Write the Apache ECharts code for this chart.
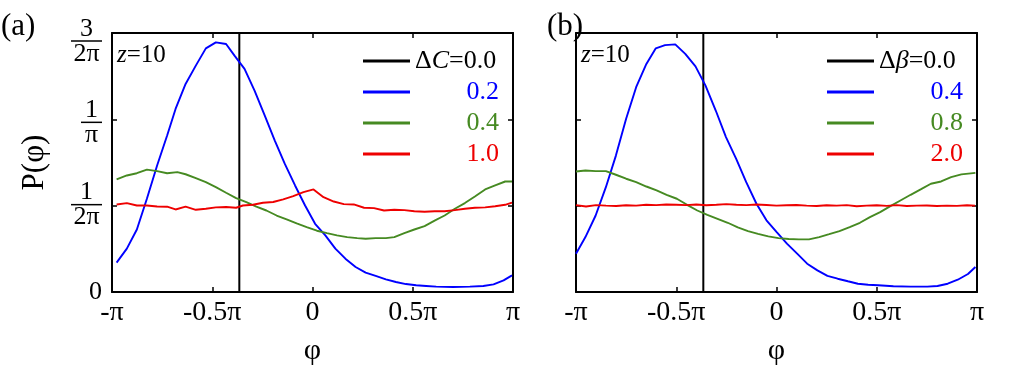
<!DOCTYPE html>
<html>
<head>
<meta charset="utf-8">
<script src="https://cdn.jsdelivr.net/npm/echarts@6/dist/echarts.min.js"></script>
<style>
  html, body { margin: 0; background: #fff; }
  #chart { width: 1016px; height: 379px; }
</style>
</head>
<body>
<div id="chart"></div>
<script>
// phase phi in units of pi, P(phi) in units of 1/pi
const xTicks = [-1, -0.5, 0, 0.5, 1];
const xTickLabels = ['-π', '-0.5π', '0', '0.5π', 'π'];
const deltaLine = -0.365; // zero-detuning curve collapses onto a vertical line

// panel (a): Delta C
const aBlueX = [-0.977,-0.926,-0.876,-0.826,-0.775,-0.725,-0.683,-0.633,-0.582,-0.532,-0.482,-0.431,-0.389,-0.339,-0.289,-0.238,-0.188,-0.138,-0.087,-0.037,0.013,0.064,0.114,0.164,0.215,0.265,0.315,0.366,0.416,0.466,0.517,0.567,0.617,0.701,0.785,0.852,0.903,0.953,0.995];
const aBlueY = [0.170,0.251,0.362,0.540,0.733,0.906,1.060,1.205,1.311,1.411,1.446,1.436,1.369,1.292,1.166,1.022,0.877,0.742,0.617,0.501,0.395,0.328,0.251,0.193,0.145,0.112,0.093,0.073,0.058,0.046,0.039,0.035,0.031,0.029,0.031,0.035,0.044,0.067,0.096];
const aGreenX = [-0.977,-0.926,-0.876,-0.826,-0.775,-0.725,-0.674,-0.633,-0.582,-0.532,-0.482,-0.431,-0.381,-0.330,-0.280,-0.230,-0.179,-0.129,-0.079,-0.029,0.022,0.072,0.122,0.173,0.223,0.265,0.315,0.366,0.408,0.458,0.508,0.559,0.609,0.659,0.710,0.760,0.810,0.861,0.911,0.961,0.995];
const aGreenY = [0.652,0.675,0.688,0.709,0.700,0.688,0.694,0.682,0.659,0.636,0.607,0.575,0.544,0.521,0.495,0.472,0.443,0.420,0.397,0.376,0.355,0.341,0.328,0.318,0.312,0.308,0.312,0.312,0.318,0.341,0.362,0.382,0.413,0.443,0.482,0.515,0.553,0.594,0.617,0.640,0.640];
const aRedX = [-0.977,-0.926,-0.876,-0.826,-0.775,-0.725,-0.683,-0.633,-0.582,-0.532,-0.482,-0.431,-0.381,-0.347,-0.297,-0.247,-0.196,-0.146,-0.096,-0.045,0.005,0.055,0.106,0.156,0.206,0.257,0.307,0.357,0.408,0.458,0.508,0.559,0.609,0.659,0.710,0.760,0.810,0.861,0.911,0.961,0.995];
const aRedY = [0.507,0.515,0.501,0.501,0.495,0.494,0.478,0.494,0.476,0.482,0.490,0.492,0.488,0.501,0.505,0.517,0.521,0.536,0.555,0.578,0.594,0.549,0.524,0.509,0.507,0.488,0.486,0.472,0.476,0.474,0.468,0.465,0.468,0.468,0.474,0.482,0.488,0.490,0.497,0.505,0.518];

// panel (b): Delta beta
const bBlueX = [-1.0,-0.953,-0.902,-0.851,-0.801,-0.750,-0.700,-0.649,-0.602,-0.556,-0.505,-0.455,-0.404,-0.354,-0.303,-0.252,-0.201,-0.151,-0.100,-0.050,0.001,0.052,0.103,0.153,0.204,0.254,0.305,0.356,0.406,0.457,0.507,0.583,0.668,0.752,0.803,0.854,0.904,0.955,0.992];
const bBlueY = [0.222,0.318,0.443,0.607,0.790,1.003,1.186,1.321,1.411,1.430,1.434,1.379,1.307,1.195,1.051,0.897,0.771,0.636,0.511,0.415,0.347,0.280,0.222,0.164,0.125,0.093,0.077,0.062,0.048,0.042,0.039,0.033,0.031,0.031,0.035,0.048,0.071,0.104,0.145];
const bGreenX = [-1.0,-0.953,-0.902,-0.851,-0.801,-0.750,-0.700,-0.649,-0.598,-0.548,-0.497,-0.446,-0.395,-0.345,-0.294,-0.243,-0.193,-0.142,-0.092,-0.041,0.010,0.061,0.111,0.162,0.213,0.263,0.314,0.365,0.416,0.466,0.517,0.568,0.618,0.669,0.719,0.770,0.821,0.871,0.922,0.992];
const bGreenY = [0.698,0.704,0.700,0.700,0.679,0.656,0.636,0.611,0.588,0.563,0.540,0.505,0.472,0.447,0.424,0.401,0.374,0.353,0.337,0.322,0.312,0.307,0.305,0.305,0.318,0.335,0.353,0.376,0.401,0.434,0.463,0.497,0.530,0.563,0.594,0.627,0.640,0.665,0.681,0.690];
const bRedX = [-1.0,-0.95,-0.9,-0.85,-0.8,-0.75,-0.7,-0.65,-0.6,-0.55,-0.5,-0.45,-0.4,-0.35,-0.3,-0.25,-0.2,-0.15,-0.1,-0.05,0.0,0.05,0.1,0.15,0.2,0.25,0.3,0.35,0.4,0.45,0.5,0.55,0.6,0.65,0.7,0.75,0.8,0.85,0.9,0.95,0.99];
const bRedY = [0.503,0.495,0.503,0.500,0.498,0.502,0.500,0.505,0.503,0.507,0.505,0.503,0.507,0.502,0.505,0.509,0.505,0.503,0.507,0.504,0.500,0.502,0.504,0.500,0.498,0.502,0.500,0.503,0.497,0.500,0.502,0.499,0.503,0.498,0.500,0.501,0.498,0.500,0.499,0.502,0.500];

const legendA = ['ΔC=0.0', 'ΔC=0.2', 'ΔC=0.4', 'ΔC=1.0'];
const legendB = ['Δβ=0.0', 'Δβ=0.4', 'Δβ=0.8', 'Δβ=2.0'];

const serif = 'Liberation Serif';
const BLUE = '#0000ff', GREEN = '#468a22', RED = '#ee0000';

const zip = (xs, ys) => xs.map((x, i) => [x, ys[i]]);

function xLabel(v) {
  const i = xTicks.indexOf(Math.round(v * 2) / 2);
  return i < 0 ? '' : xTickLabels[i];
}

function yLabel(v) {
  if (v === 0) return '{z|0}';
  if (v === 0.5) return '{n|1}\n{bar2|}\n{d|2π}';
  if (v === 1) return '{sp1| }\n{n|1}\n{bar1|}\n{d|π}';
  if (v === 1.5) return '{sp2| }\n{n|3}\n{bar2|}\n{d|2π}';
  return '';
}

const yRich = {
  z: { fontFamily: serif, fontSize: 26, color: '#000' },
  n: { fontFamily: serif, fontSize: 26, lineHeight: 21, align: 'center', color: '#000' },
  d: { fontFamily: serif, fontSize: 26, lineHeight: 23, align: 'center', color: '#000' },
  bar2: { width: 31, height: 1.5, lineHeight: 3, backgroundColor: '#000', align: 'center' },
  bar1: { width: 21, height: 1.5, lineHeight: 3, backgroundColor: '#000', align: 'center' },
  sp1: { fontSize: 2, lineHeight: 8 },
  sp2: { fontSize: 2, lineHeight: 18 }
};

function makeX(grid, top) {
  return {
    gridIndex: grid, type: 'value', min: -1, max: 1, interval: 0.5,
    position: top ? 'top' : 'bottom',
    axisLine: { show: true, onZero: false, lineStyle: { color: '#000', width: 2 } },
    axisTick: { show: true, inside: true, length: 5, lineStyle: { color: '#000', width: 1.5 } },
    axisLabel: top ? { show: false } : {
      formatter: xLabel, fontFamily: serif, fontSize: 28, color: '#000', margin: 7
    },
    splitLine: { show: false },
    name: top ? '' : 'φ', nameLocation: 'middle', nameGap: 44,
    nameTextStyle: { fontFamily: serif, fontSize: 30, color: '#000' }
  };
}

function makeY(grid, right, labels) {
  return {
    gridIndex: grid, type: 'value', min: 0, max: 1.5, interval: 0.5,
    position: right ? 'right' : 'left',
    axisLine: { show: true, onZero: false, lineStyle: { color: '#000', width: 2 } },
    axisTick: { show: true, inside: true, length: 5, lineStyle: { color: '#000', width: 1.5 } },
    axisLabel: labels ? { formatter: yLabel, margin: 10, rich: yRich } : { show: false },
    splitLine: { show: false },
    name: labels ? 'P(φ)' : '', nameLocation: 'middle', nameGap: 62,
    nameTextStyle: { fontFamily: serif, fontSize: 31, color: '#000' }
  };
}

function line(name, data, color, xi, width) {
  return {
    name: name, type: 'line', data: data, xAxisIndex: xi, yAxisIndex: xi,
    symbol: 'none', silent: true, animation: false,
    itemStyle: { color: color },
    lineStyle: { color: color, width: width || 1.9 }
  };
}

const legendRich = {
  g: { fontFamily: serif, fontSize: 26, lineHeight: 24, color: '#000' },
  i: { fontFamily: serif, fontSize: 26, lineHeight: 24, fontStyle: 'italic', color: '#000' },
  blue: { fontFamily: serif, fontSize: 26, lineHeight: 24, color: BLUE, width: 84, align: 'right' },
  green: { fontFamily: serif, fontSize: 26, lineHeight: 24, color: GREEN, width: 84, align: 'right' },
  red: { fontFamily: serif, fontSize: 26, lineHeight: 24, color: RED, width: 84, align: 'right' }
};
const colorKey = ['', 'blue', 'green', 'red'];

function legendFmt(names, sym) {
  return function (name) {
    const i = names.indexOf(name);
    const val = name.split('=')[1];
    if (i === 0) return '{g|Δ}{i|' + sym + '}{g|=' + val + '}';
    return '{' + colorKey[i] + '|' + val + '}';
  };
}

function makeLegend(names, left, sym) {
  return {
    data: names, orient: 'vertical', left: left, top: 48,
    icon: 'rect', itemWidth: 47, itemHeight: 3, itemGap: 5,
    selectedMode: false, padding: 0,
    formatter: legendFmt(names, sym),
    textStyle: { fontFamily: serif, fontSize: 26, color: '#000', rich: legendRich }
  };
}

const zRich = {
  i: { fontFamily: serif, fontSize: 25, fontStyle: 'italic', fontWeight: 'normal', color: '#000' },
  g: { fontFamily: serif, fontSize: 25, fontWeight: 'normal', color: '#000' }
};

const chart = echarts.init(document.getElementById('chart'));

chart.setOption({
  animation: false,
  backgroundColor: '#fff',
  title: [
    { text: '(a)', left: 1, top: 11, padding: 0,
      textStyle: { fontFamily: serif, fontSize: 31, fontWeight: 'normal', color: '#000' } },
    { text: '(b)', left: 547, top: 11, padding: 0,
      textStyle: { fontFamily: serif, fontSize: 31, fontWeight: 'normal', color: '#000' } },
    { text: '{i|z}{g|=10}', left: 117, top: 43, padding: 0,
      textStyle: { fontWeight: 'normal', rich: zRich } },
    { text: '{i|z}{g|=10}', left: 581, top: 43, padding: 0,
      textStyle: { fontWeight: 'normal', rich: zRich } }
  ],
  legend: [
    makeLegend(legendA, 363, 'C'),
    makeLegend(legendB, 827, 'β')
  ],
  grid: [
    { left: 112, top: 33, width: 401, height: 259 },
    { left: 576, top: 33, width: 401, height: 259 }
  ],
  xAxis: [makeX(0, false), makeX(0, true), makeX(1, false), makeX(1, true)],
  yAxis: [makeY(0, false, true), makeY(0, true, false), makeY(1, false, false), makeY(1, true, false)],
  series: [
    line(legendA[0], [[deltaLine, 0], [deltaLine, 1.5]], '#000', 0, 2),
    line(legendA[1], zip(aBlueX, aBlueY), BLUE, 0),
    line(legendA[2], zip(aGreenX, aGreenY), GREEN, 0),
    line(legendA[3], zip(aRedX, aRedY), RED, 0),
    line(legendB[0], [[deltaLine, 0], [deltaLine, 1.5]], '#000', 2, 2),
    line(legendB[1], zip(bBlueX, bBlueY), BLUE, 2),
    line(legendB[2], zip(bGreenX, bGreenY), GREEN, 2),
    line(legendB[3], zip(bRedX, bRedY), RED, 2)
  ]
});
</script>
</body>
</html>
